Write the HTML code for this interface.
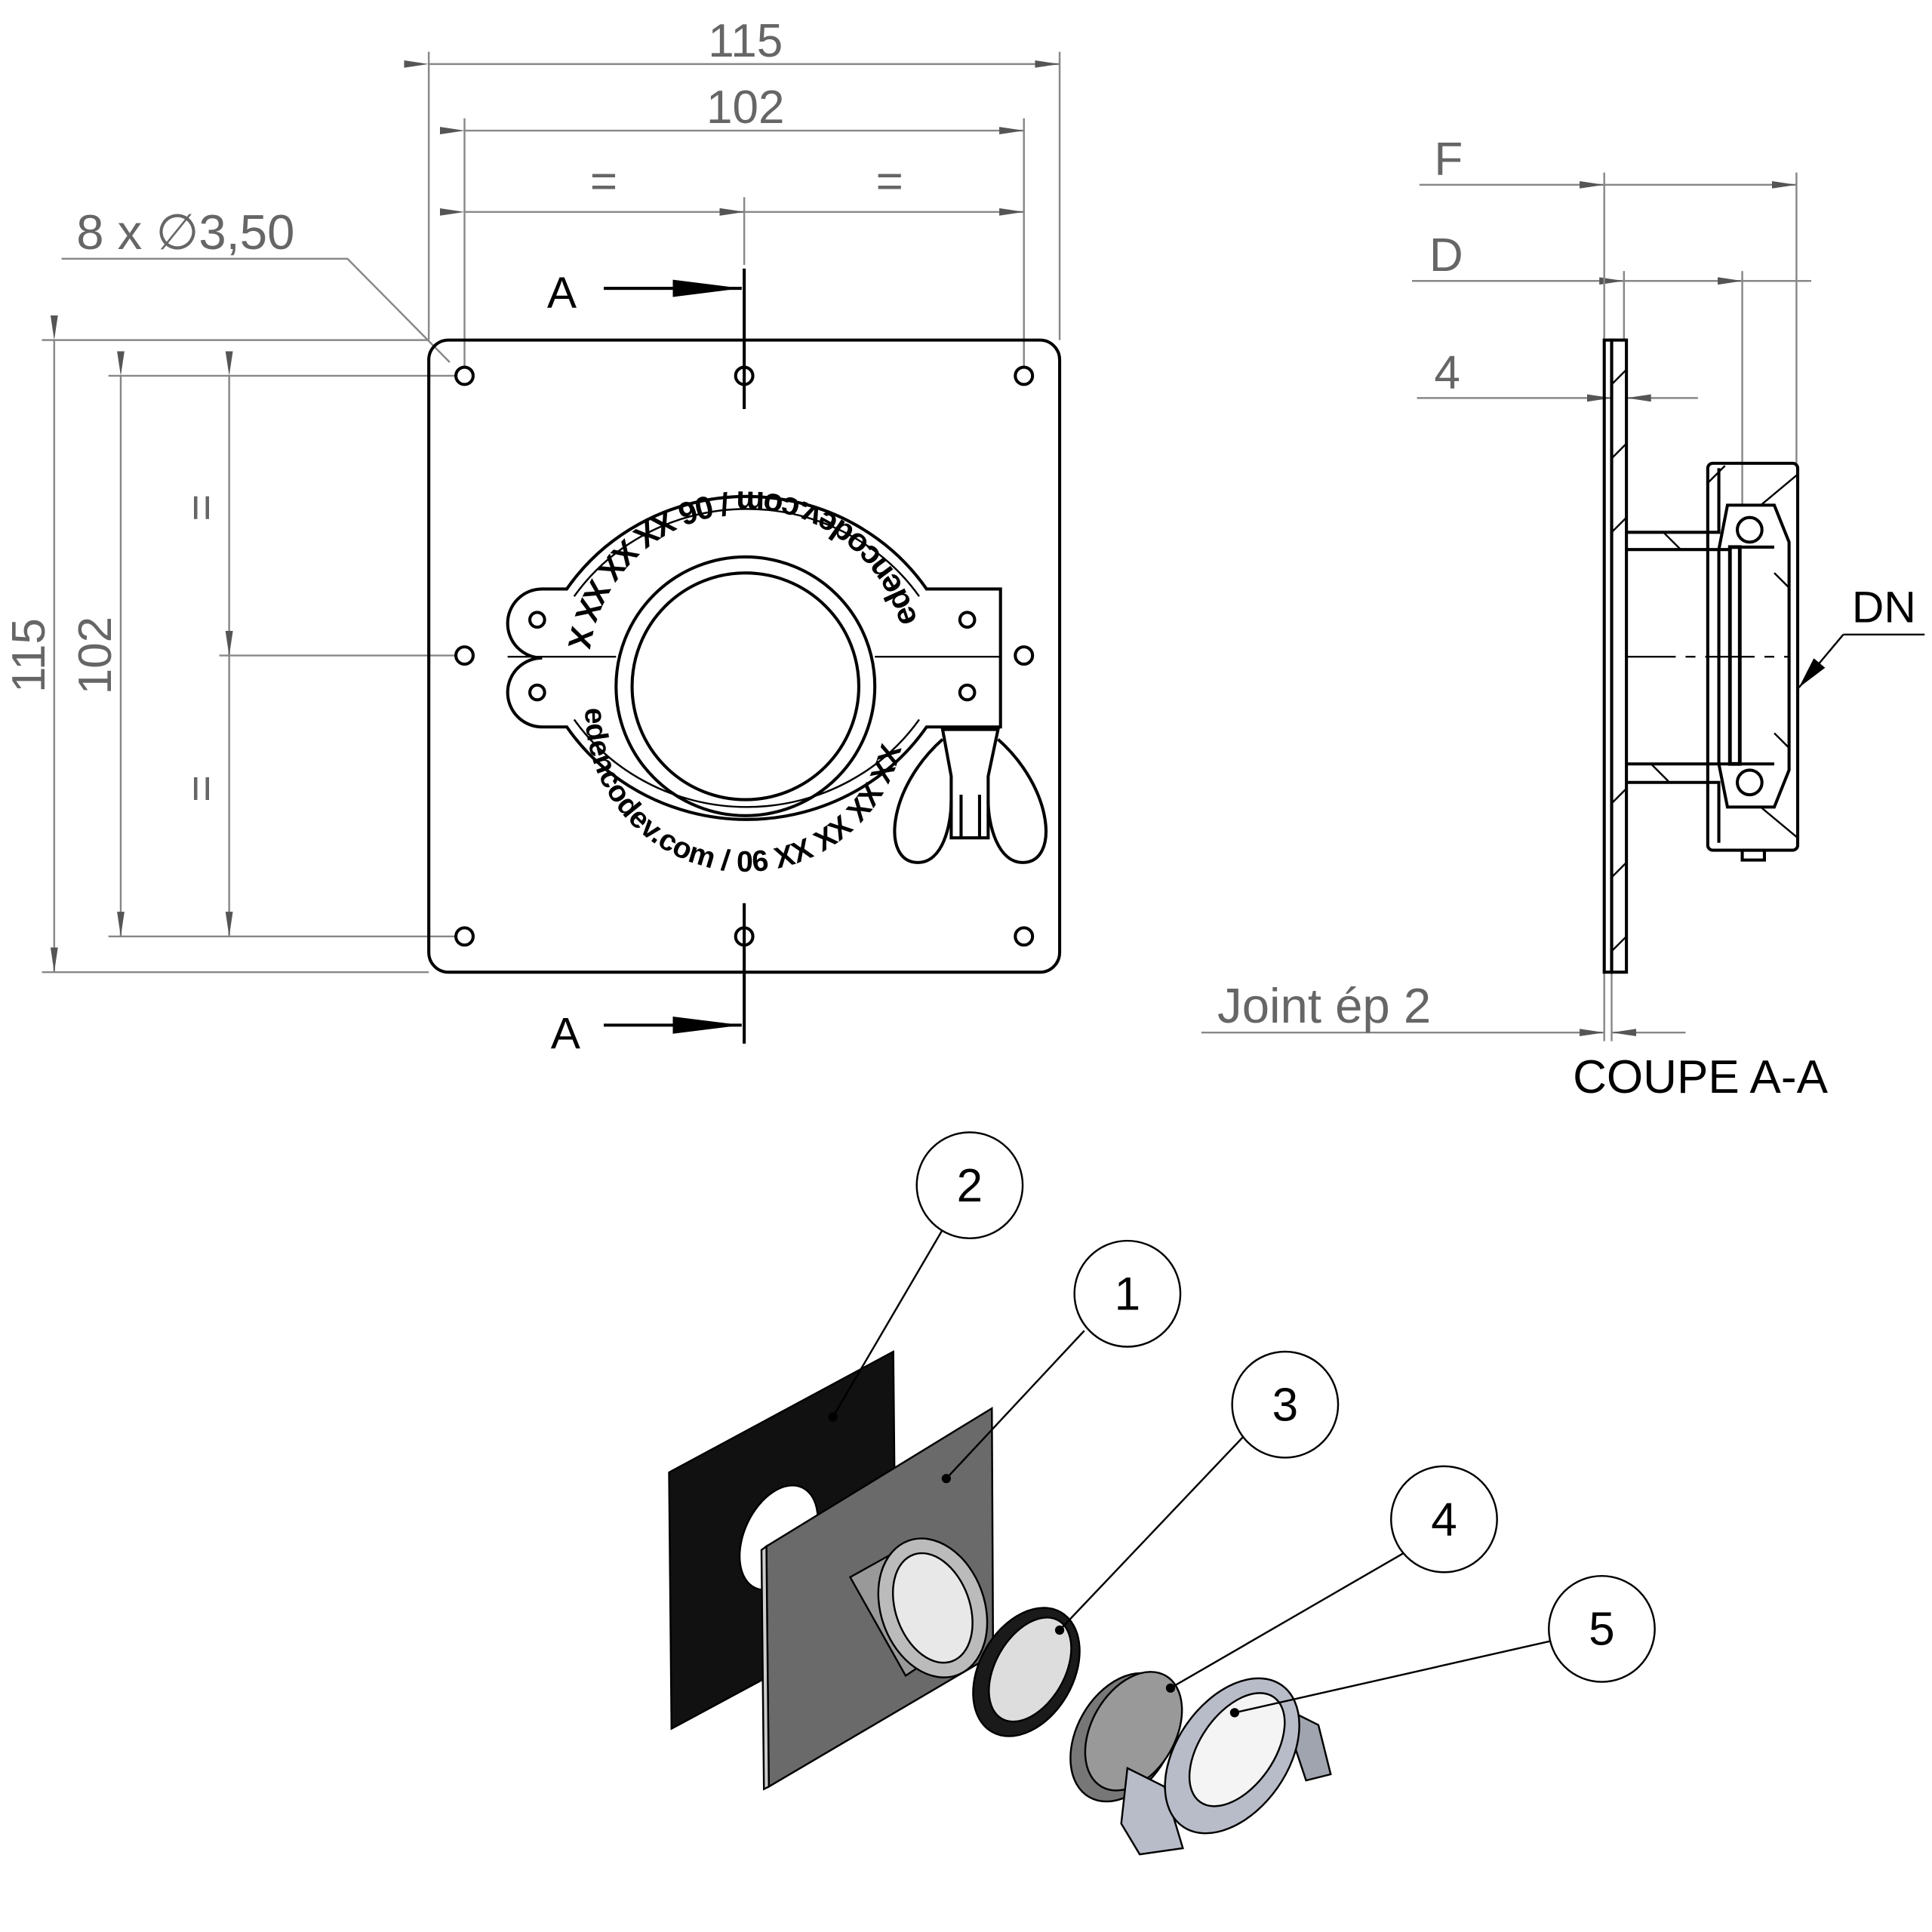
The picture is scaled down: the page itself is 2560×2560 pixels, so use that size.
<!DOCTYPE html>
<html><head><meta charset="utf-8"><style>html,body{margin:0;padding:0;background:#fff}svg{display:block}</style></head>
<body>
<svg width="2560" height="2560" viewBox="0 0 1568 1568" xmlns="http://www.w3.org/2000/svg" font-family="Liberation Sans, sans-serif">
<defs>
<marker id="ar" markerWidth="20" markerHeight="8" refX="20" refY="4" orient="auto" markerUnits="userSpaceOnUse"><path d="M0,1 L20,4 L0,7 Z" fill="#555"/></marker>
<marker id="ab" markerWidth="56" markerHeight="16" refX="56" refY="8" orient="auto" markerUnits="userSpaceOnUse"><path d="M0,1 L56,8 L0,15 Z" fill="#000"/></marker>
<marker id="ab2" markerWidth="26" markerHeight="12" refX="26" refY="6" orient="auto" markerUnits="userSpaceOnUse"><path d="M0,0 L26,6 L0,12 Z" fill="#000"/></marker>
</defs>
<rect width="1568" height="1568" fill="#fff"/>
<g stroke="#888" stroke-width="1.5" fill="none">
<line x1="348" y1="42" x2="348" y2="276"/><line x1="860" y1="42" x2="860" y2="276"/>
<line x1="377" y1="96" x2="377" y2="298"/><line x1="831" y1="96" x2="831" y2="298"/>
<line x1="604" y1="160" x2="604" y2="215"/>
<line x1="348" y1="52" x2="860" y2="52" marker-start="url(#ar)" marker-end="url(#ar)"/>
<line x1="377" y1="106" x2="831" y2="106" marker-start="url(#ar)" marker-end="url(#ar)"/>
<line x1="377" y1="172" x2="604" y2="172" marker-start="url(#ar)" marker-end="url(#ar)"/>
<line x1="604" y1="172" x2="831" y2="172" marker-start="url(#ar)" marker-end="url(#ar)"/>
<polyline points="50,210 282,210 365,294"/>
<line x1="34" y1="276" x2="348" y2="276"/><line x1="34" y1="789" x2="348" y2="789"/>
<line x1="88" y1="305" x2="370" y2="305"/><line x1="88" y1="760" x2="370" y2="760"/>
<line x1="178" y1="532" x2="370" y2="532"/>
<line x1="44" y1="276" x2="44" y2="789" marker-start="url(#ar)" marker-end="url(#ar)"/>
<line x1="98" y1="305" x2="98" y2="760" marker-start="url(#ar)" marker-end="url(#ar)"/>
<line x1="186" y1="305" x2="186" y2="532" marker-start="url(#ar)" marker-end="url(#ar)"/>
<line x1="186" y1="532" x2="186" y2="760" marker-start="url(#ar)" marker-end="url(#ar)"/>
<line x1="1152" y1="150" x2="1302" y2="150"/><line x1="1302" y1="150" x2="1458" y2="150" marker-start="url(#ar)" marker-end="url(#ar)"/>
<line x1="1146" y1="228" x2="1318" y2="228"/>
<line x1="1318" y1="228" x2="1414" y2="228" marker-start="url(#ar)" marker-end="url(#ar)"/>
<line x1="1414" y1="228" x2="1470" y2="228" marker-start="url(#ar)"/>
<line x1="1302" y1="140" x2="1302" y2="276"/><line x1="1458" y1="140" x2="1458" y2="376"/>
<line x1="1318" y1="220" x2="1318" y2="276"/><line x1="1414" y1="220" x2="1414" y2="410"/>
<line x1="1150" y1="323" x2="1308" y2="323" marker-end="url(#ar)"/><line x1="1378" y1="323" x2="1320" y2="323" marker-end="url(#ar)"/>
<line x1="975" y1="838" x2="1302" y2="838" marker-end="url(#ar)"/><line x1="1368" y1="838" x2="1308" y2="838" marker-end="url(#ar)"/>
<line x1="1302" y1="789" x2="1302" y2="845"/><line x1="1308" y1="789" x2="1308" y2="845"/>
</g>
<g fill="#666" font-size="38">
<text x="605" y="46" text-anchor="middle">115</text>
<text x="605" y="100" text-anchor="middle">102</text>
<text x="490" y="160" text-anchor="middle">=</text><text x="722" y="160" text-anchor="middle">=</text>
<text x="62" y="202" font-size="40">8 x ∅3,50</text>
<text transform="translate(36,532) rotate(-90)" text-anchor="middle">115</text>
<text transform="translate(90,532) rotate(-90)" text-anchor="middle">102</text>
<text transform="translate(176,412) rotate(-90)" text-anchor="middle">=</text>
<text transform="translate(176,640) rotate(-90)" text-anchor="middle">=</text>
<text x="1164" y="142">F</text><text x="1160" y="220">D</text><text x="1164" y="315">4</text>
<text x="988" y="830" font-size="40">Joint ép 2</text>
</g>
<g font-size="36" fill="#000"><text x="444" y="250">A</text><text x="447" y="851">A</text></g>
<g stroke="#000" stroke-width="2.5" fill="none">
<rect x="348" y="276" width="512" height="513" rx="16"/>
<circle cx="377" cy="305" r="7"/><circle cx="604" cy="305" r="7"/><circle cx="831" cy="305" r="7"/>
<circle cx="377" cy="532" r="7"/><circle cx="831" cy="532" r="7"/>
<circle cx="377" cy="760" r="7"/><circle cx="604" cy="760" r="7"/><circle cx="831" cy="760" r="7"/>
<line x1="604" y1="218" x2="604" y2="332"/><line x1="604" y1="733" x2="604" y2="847"/>
<line x1="490" y1="234" x2="602" y2="234" marker-end="url(#ab)"/>
<line x1="490" y1="832" x2="602" y2="832" marker-end="url(#ab)"/>
<path d="M460,478 A176 170 0 0 1 752,478 L812,478 L812,590 L752,590 A176 170 0 0 1 460,590 L440,590 A28 28 0 0 1 440,534 A28 28 0 0 1 440,478 Z" fill="#fff"/>
<path d="M466,484 A170 164 0 0 1 746,484" stroke-width="1.5"/>
<path d="M466,584 A170 164 0 0 0 746,584" stroke-width="1.5"/>
<circle cx="605" cy="557" r="105"/>
<circle cx="605" cy="557" r="92"/>
<line x1="412" y1="533" x2="500" y2="533" stroke-width="1.5"/><line x1="710" y1="533" x2="812" y2="533" stroke-width="1.5"/>
<circle cx="436" cy="503" r="6"/><circle cx="436" cy="562" r="6"/>
<circle cx="785" cy="503" r="6"/><circle cx="785" cy="562" r="6"/>
<path d="M765,592 L810,592 L802,630 L802,680 L772,680 L772,630 Z" fill="#fff"/>
<path d="M765,600 C720,640 715,700 745,700 C765,700 772,670 772,650"/>
<path d="M810,600 C855,640 860,700 830,700 C810,700 802,670 802,650"/>
<line x1="780" y1="645" x2="780" y2="680"/><line x1="795" y1="645" x2="795" y2="680"/>
</g>
<path id="tp" d="M748,520 A145 145 0 0 0 462,520" fill="none"/>
<path id="bp" d="M475.5,566 A130 130 0 1 0 734.5,566" fill="none"/>
<g font-weight="bold" fill="#000">
<text font-size="26"><textPath href="#tp" startOffset="4%">edencodev.com / 06 XX XX XX XX</textPath></text>
<text font-size="24"><textPath href="#bp" startOffset="2%">edencodev.com / 06 XX XX XX XX</textPath></text>
</g>
<g stroke="#000" stroke-width="2.5" fill="none">
<rect x="1302" y="276" width="6" height="513"/>
<rect x="1308" y="276" width="12" height="513"/>
<path d="M1320,432 L1395,432 L1395,380 M1320,635 L1395,635 L1395,684"/>
<line x1="1320" y1="446" x2="1405" y2="446"/><line x1="1320" y1="620" x2="1405" y2="620"/>
<rect x="1386" y="376" width="73" height="314" rx="4"/>
<path d="M1402,410 L1440,410 L1452,440 L1452,625 L1440,655 L1402,655 L1395,620 L1395,446 Z"/>
<rect x="1404" y="444" width="8" height="176" stroke-width="3"/>
<line x1="1412" y1="444" x2="1440" y2="444"/><line x1="1412" y1="620" x2="1440" y2="620"/>
<circle cx="1420" cy="430" r="10"/><circle cx="1420" cy="635" r="10"/>
<rect x="1414" y="690" width="18" height="8"/>
<line x1="1320" y1="533" x2="1452" y2="533" stroke-dasharray="40,8,8,8" stroke-width="1.5"/>
<path d="M1320,300 l-12,12 M1320,360 l-12,12 M1320,420 l-12,12 M1320,640 l-12,12 M1320,700 l-12,12 M1320,760 l-12,12 M1350,432 l14,14 M1340,620 l14,14 M1400,378 l-14,14 M1459,385 l-30,25 M1459,680 l-30,-25 M1440,465 l12,12 M1440,595 l12,12" stroke-width="1.5"/>
<line x1="1562" y1="515" x2="1496" y2="515" stroke-width="1.5"/>
<line x1="1496" y1="515" x2="1460" y2="558" stroke-width="1.5" marker-end="url(#ab2)"/>
</g>
<text x="1503" y="505" font-size="36" fill="#000">DN</text>
<text x="1380" y="887" font-size="38" fill="#000" text-anchor="middle">COUPE A-A</text>
<g stroke="#000" stroke-width="1.5">
<polygon points="543,1195 725,1097 727,1305 545,1403" fill="#111"/>
<ellipse cx="632" cy="1248" rx="28" ry="45" fill="#fff" transform="rotate(25 632 1248)"/>
<polygon points="622,1255 805,1143 806,1343 624,1450" fill="#6a6a6a"/>
<polygon points="618,1258 622,1255 624,1450 620,1452" fill="#ccc"/>
<path d="M690,1280 L735,1255 L780,1330 L735,1360 Z" fill="#999"/>
<ellipse cx="757" cy="1305" rx="42" ry="58" fill="#bbb" transform="rotate(-20 757 1305)"/>
<ellipse cx="757" cy="1305" rx="30" ry="46" fill="#e8e8e8" transform="rotate(-20 757 1305)"/>
<ellipse cx="833" cy="1357" rx="38" ry="56" fill="#1a1a1a" transform="rotate(30 833 1357)"/>
<ellipse cx="836" cy="1355" rx="28" ry="46" fill="#ddd" transform="rotate(30 836 1355)"/>
<ellipse cx="912" cy="1410" rx="38" ry="56" fill="#777" transform="rotate(30 912 1410)"/>
<ellipse cx="920" cy="1405" rx="34" ry="52" fill="#999" transform="rotate(30 920 1405)"/>
<path d="M915,1435 L945,1450 L960,1500 L925,1505 L910,1480 Z" fill="#b8bcc8"/>
<path d="M1040,1385 L1070,1400 L1080,1440 L1060,1445 Z" fill="#a0a4ae"/>
<ellipse cx="1000" cy="1425" rx="45" ry="70" fill="#b8bcc8" transform="rotate(35 1000 1425)"/>
<ellipse cx="1004" cy="1420" rx="30" ry="52" fill="#f4f4f4" transform="rotate(35 1004 1420)"/>
</g>
<g stroke="#000" stroke-width="1.5" fill="#fff">
<line x1="765" y1="998" x2="676" y2="1150"/><circle cx="676" cy="1150" r="3" fill="#000"/>
<line x1="880" y1="1080" x2="768" y2="1200"/><circle cx="768" cy="1200" r="3" fill="#000"/>
<line x1="1010" y1="1165" x2="860" y2="1323"/><circle cx="860" cy="1323" r="3" fill="#000"/>
<line x1="1140" y1="1260" x2="950" y2="1370"/><circle cx="950" cy="1370" r="3" fill="#000"/>
<line x1="1258" y1="1332" x2="1002" y2="1390"/><circle cx="1002" cy="1390" r="3" fill="#000"/>
<circle cx="787" cy="962" r="43"/><circle cx="915" cy="1050" r="43"/><circle cx="1043" cy="1140" r="43"/>
<circle cx="1172" cy="1233" r="43"/><circle cx="1300" cy="1322" r="43"/>
</g>
<g font-size="38" fill="#000" text-anchor="middle">
<text x="787" y="975">2</text><text x="915" y="1063">1</text><text x="1043" y="1153">3</text>
<text x="1172" y="1246">4</text><text x="1300" y="1335">5</text>
</g>
</svg>
</body></html>
